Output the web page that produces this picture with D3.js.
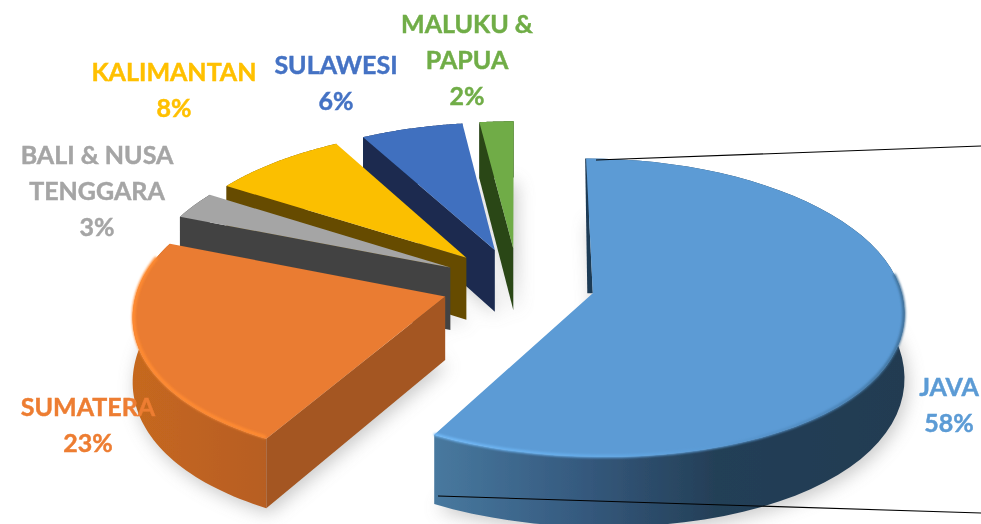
<!DOCTYPE html>
<html><head><meta charset="utf-8">
<script src="https://cdn.jsdelivr.net/npm/d3@7"></script>
<style>html,body{margin:0;padding:0;background:#fff}svg{display:block}</style>
</head><body><svg id="c" width="981" height="524"></svg>
<script>
// ---- data ----
const regions = ["JAVA","SUMATERA","BALI & NUSA TENGGARA","KALIMANTAN","SULAWESI","MALUKU & PAPUA"];
const shares  = [58,23,3,8,6,2];
const labelLines = [["JAVA"],["SUMATERA"],["BALI & NUSA","TENGGARA"],["KALIMANTAN"],["SULAWESI"],["MALUKU &","PAPUA"]];

// ---- style & layout ----
const faceColors = ["#5b9bd5","#ea7b30","#a5a5a5","#fbbf00","#4170bf","#6fac47"];
const textColors = ["#5b9bd5","#ed7d31","#a5a5a5","#ffc000","#4472c4","#70ad47"];
const startWall  = ["#1f3b54","#a45620","#434343","#664b00","#1a2c50","#2b4619"];
const outerWall  = ["url(#wallJava)","url(#wallSum)","#434343","#664b00","#1a2c50","#2b4619"];
const labelCenter = [[949,387],[88,407],[97,155],[174,72],[336,65],[467,24]];
const W=981,H=524, cx=518, cy=284, Rx=307, Ry=146, persp=0.097, frontFlare=0.04, explode=0.25, depth=63, lineGap=36;

const svg = d3.select("#c");
const defs = svg.append("defs");
function grad(id,stops,x1,x2){
  const g=defs.append("linearGradient").attr("id",id).attr("gradientUnits","userSpaceOnUse")
    .attr("x1",x1).attr("x2",x2).attr("y1",0).attr("y2",0);
  stops.forEach(s=>g.append("stop").attr("offset",s[0]).attr("stop-color",s[1]));
}
grad("wallJava",[[0,"#48799f"],[0.3,"#365b80"],[0.6,"#243f57"],[1,"#223b51"]],433,904);
grad("wallSum",[[0,"#c6681f"],[1,"#b65d22"]],130,275);
grad("rimJava",[[0,"#72baf8"],[0.35,"#64abe9"],[0.6,"#5b9bd5"],[0.85,"#4c85b9"],[1,"#3f7099"]],433,904);
function blur(id,sd){
  defs.append("filter").attr("id",id).attr("x","-20%").attr("y","-20%").attr("width","140%").attr("height","140%")
    .append("feGaussianBlur").attr("stdDeviation",sd);
}
blur("soft",9); blur("rim",1.3); blur("fine",0.5); blur("txt",0.35);

// Disc coordinates -> screen, with perspective
const wOf = v => 1 - persp*v;
const sx = d3.scaleLinear().domain([-1,1]).range([cx-Rx,cx+Rx]);
const sy = d3.scaleLinear().domain([-1,1]).range([cy-Ry,cy+Ry]);
const project = (u,v) => [sx((u/wOf(v))*(1+frontFlare*Math.max(v,0)*v)), sy(v/wOf(v))];
const line = d3.line();

const pieGen = d3.pie().sort(null).startAngle(0).endAngle(2*Math.PI);
const arcs = pieGen(shares);

arcs.forEach((a,i)=>{
  const mid=(a.startAngle+a.endAngle)/2;
  a.ou=explode*Math.sin(mid); a.ov=-explode*Math.cos(mid);
  a.pt=t=>{const u=a.ou+Math.sin(t), v=a.ov-Math.cos(t); return {p:project(u,v),w:wOf(v)};};
  a.apex={p:project(a.ou,a.ov),w:wOf(a.ov)};
  a.samples=(t0,t1)=>d3.range(0,61).map(k=>a.pt(t0+(t1-t0)*k/60));
  a.i=i;
});
const down = s => [s.p[0], s.p[1]+depth/s.w];

// soft drop shadows beneath the slices
const shadowG = svg.append("g").attr("filter","url(#soft)").attr("opacity",0.4);
arcs.forEach(a=>{
  const arc=a.samples(a.startAngle,a.endAngle);
  const poly=[a.apex,...arc].map(down).map(p=>[p[0]+3,p[1]+5]);
  shadowG.append("path").attr("d",line(poly)+"Z").attr("fill","#777");
});

// painter's order: back slices first, Java drawn last
const order=[5,4,3,2,1,0];
const marks = svg.append("g").attr("filter","url(#fine)");
order.forEach(i=>{
  const a=arcs[i];
  const arc=a.samples(a.startAngle,a.endAngle);
  const top=arc.map(s=>s.p), bot=arc.map(down).reverse();
  marks.append("path").attr("d",line(top.concat(bot))+"Z").attr("fill",outerWall[i]);
  const o=a.pt(a.startAngle);
  if(i===0){
    const ap=a.apex.p;
    marks.append("path").attr("d",line([o.p,ap,[ap[0]-5.5,ap[1]],[o.p[0]-1,o.p[1]]])+"Z").attr("fill",startWall[i]);
  } else {
    marks.append("path").attr("d",line([a.apex.p,o.p,down(o),down(a.apex)])+"Z").attr("fill",startWall[i]);
  }
  marks.append("path").attr("d",line([a.apex.p,...top])+"Z").attr("fill",faceColors[i]);
});

// rim highlights along the front edge of the two large slices
const rimG = svg.append("g").attr("filter","url(#rim)").attr("fill","none").attr("stroke-linecap","round");
const rimJava = arcs[0].samples(arcs[0].startAngle+1.45,arcs[0].endAngle-0.005).map(s=>[s.p[0]-0.5,s.p[1]-0.5]);
rimG.append("path").attr("d",line(rimJava)).attr("stroke","url(#rimJava)").attr("stroke-width",3);
const rimSum = arcs[1].samples(arcs[1].startAngle+0.01,arcs[1].endAngle-0.12).map(s=>[s.p[0]+1,s.p[1]-1]);
rimG.append("path").attr("d",line(rimSum)).attr("stroke","#ff8b33").attr("stroke-width",3.5);

// leader lines
const leaders=[[[596,160],[981,146]],[[438,496],[981,513]]];
svg.append("g").selectAll("path").data(leaders).join("path")
  .attr("d",d=>line(d)).attr("stroke","#000").attr("stroke-width",1.1).attr("fill","none");

// labels
const labels = svg.append("g").attr("font-family","Lato, 'Open Sans', sans-serif").attr("font-weight",700)
  .attr("font-size",25).attr("text-anchor","middle").attr("filter","url(#txt)");
regions.forEach((r,i)=>{
  const g=labels.append("text").attr("fill",textColors[i]).attr("stroke",textColors[i]).attr("stroke-width",0.45).attr("data-region",r);
  const rows=[...labelLines[i],shares[i]+"%"];
  rows.forEach((t,k)=>{
    g.append("tspan").attr("x",labelCenter[i][0]).attr("y",labelCenter[i][1]+k*lineGap+9).text(t);
  });
});
</script></body></html>
